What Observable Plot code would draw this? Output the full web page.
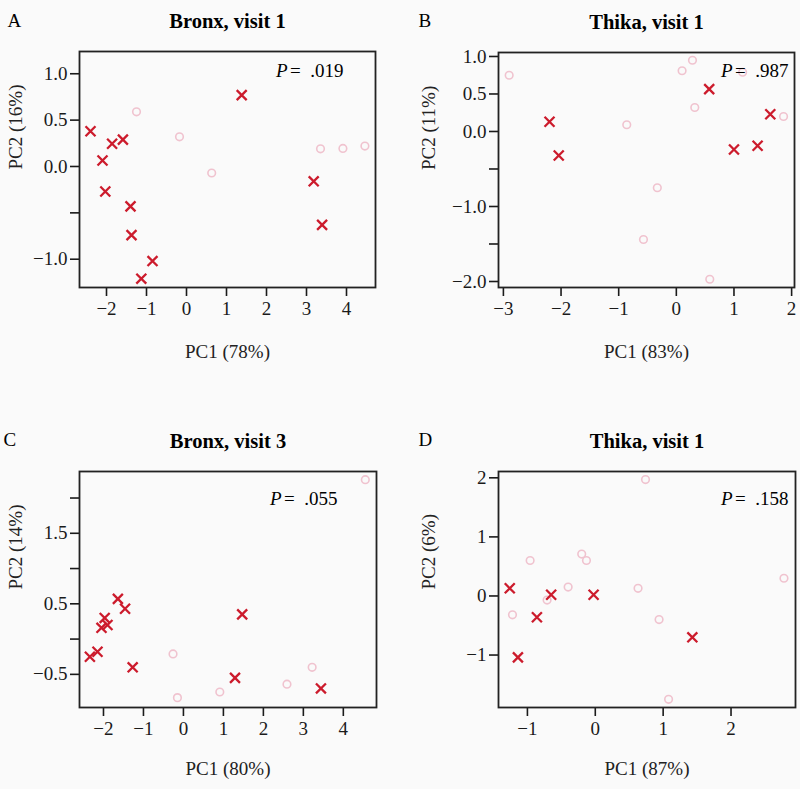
<!DOCTYPE html>
<html>
<head>
<meta charset="utf-8">
<script src="https://cdn.jsdelivr.net/npm/d3@7"></script>
<script src="https://cdn.jsdelivr.net/npm/@observablehq/plot@0.6"></script>
<style>
  html, body { margin: 0; padding: 0; background: #fafafa; }
  #root { position: relative; width: 800px; height: 789px; background: #fafafa; overflow: hidden; }
  #root svg, #root svg text { font-family: "Liberation Serif", "Times New Roman", serif !important; }
</style>
</head>
<body>
<div id="root"></div>
<script>
// ---- Panel A: Bronx, visit 1 ----
const aCrossX = [-2.40, -1.86, -1.59, -2.10, -2.03, -1.40, -1.375, -0.85, -1.13, 1.38, 3.18, 3.39];
const aCrossY = [0.38, 0.245, 0.29, 0.065, -0.27, -0.43, -0.74, -1.02, -1.21, 0.77, -0.16, -0.63];
const aCircX = [-1.25, -0.175, 0.63, 3.35, 3.91, 4.46];
const aCircY = [0.59, 0.32, -0.07, 0.19, 0.195, 0.22];
const aXTicks = [-2, -1, 0, 1, 2, 3, 4];
const aYTicks = [1.0, 0.5, 0.0, -0.5, -1.0];
const aYLabeled = [1.0, 0.5, 0.0, -1.0];

// ---- Panel B: Thika, visit 1 ----
const bCrossX = [-2.20, -2.04, 0.57, 1.00, 1.41, 1.63];
const bCrossY = [0.13, -0.32, 0.565, -0.24, -0.19, 0.23];
const bCircX = [-2.90, 0.28, 0.10, 1.15, 0.32, -0.86, 1.86, -0.33, -0.57, 0.58];
const bCircY = [0.75, 0.95, 0.81, 0.79, 0.32, 0.09, 0.20, -0.75, -1.44, -1.97];
const bXTicks = [-3, -2, -1, 0, 1, 2];
const bYTicks = [1.0, 0.5, 0.0, -0.5, -1.0, -1.5, -2.0];
const bYLabeled = [1.0, 0.5, 0.0, -1.0, -2.0];

// ---- Panel C: Bronx, visit 3 ----
const cCrossX = [-2.34, -2.15, -2.05, -1.97, -1.90, -1.64, -1.46, -1.27, 1.47, 1.29, 3.44];
const cCrossY = [-0.25, -0.18, 0.16, 0.30, 0.20, 0.57, 0.43, -0.40, 0.35, -0.55, -0.70];
const cCircX = [4.55, -0.26, -0.15, 0.91, 2.59, 3.22];
const cCircY = [2.26, -0.21, -0.83, -0.75, -0.64, -0.40];
const cXTicks = [-2, -1, 0, 1, 2, 3, 4];
const cYTicks = [2.0, 1.5, 1.0, 0.5, 0.0, -0.5];
const cYLabeled = [1.5, 0.5, -0.5];

// ---- Panel D: Thika, visit 1 ----
const dCrossX = [-1.26, -0.65, -0.025, -0.86, -1.14, 1.43];
const dCrossY = [0.13, 0.02, 0.02, -0.36, -1.04, -0.70];
const dCircX = [0.74, -0.96, -0.20, -0.13, -0.40, 0.63, 2.78, -1.22, -0.71, 0.94, 1.08];
const dCircY = [1.97, 0.60, 0.71, 0.60, 0.15, 0.13, 0.30, -0.32, -0.07, -0.40, -1.75];
const dXTicks = [-1, 0, 1, 2];
const dYTicks = [2, 1, 0, -1];
const dYLabeled = [2, 1, 0, -1];

const titles = ["Bronx, visit 1", "Thika, visit 1", "Bronx, visit 3", "Thika, visit 1"];
const letters = ["A", "B", "C", "D"];
const xLabels = ["PC1 (78%)", "PC1 (83%)", "PC1 (80%)", "PC1 (87%)"];
const yLabels = ["PC2 (16%)", "PC2 (11%)", "PC2 (14%)", "PC2 (6%)"];
const pValues = [".019", ".987", ".055", ".158"];

const CROSS = "#cc1b2c";
const CIRCLE = "#f0c3cf";
const FONT = "Liberation Serif, Times New Roman, serif";

const minus = s => s.replace("-", "\u2212");
const fmt1 = d => minus(d.toFixed(1));
const fmt0 = d => minus(d.toFixed(0));

const zip = (xs, ys) => xs.map((x, i) => ({x, y: ys[i]}));

function panel(o) {
  const crosses = zip(o.crossX, o.crossY);
  const circles = zip(o.circX, o.circY);
  return Plot.plot({
    width: 400,
    height: o.height,
    marginLeft: o.ml, marginRight: o.mr, marginTop: o.mt, marginBottom: o.mb,
    style: {fontFamily: FONT, fontSize: "19px", background: "transparent", color: "#1a1a1a"},
    x: {domain: o.xDomain},
    y: {domain: o.yDomain},
    marks: [
      Plot.axisX({ticks: o.xTicks, tickFormat: fmt0, tickSize: 9, tickPadding: 5, label: null, fontSize: 19, strokeWidth: 1.6, fontFamily: FONT}),
      Plot.axisY({ticks: o.yTicks, tickFormat: d => o.yLabeled.includes(d) ? o.yFmt(d) : "", tickSize: 9, tickPadding: 3, label: null, fontSize: 19, strokeWidth: 1.6, fontFamily: FONT}),
      Plot.frame({stroke: "#222", strokeWidth: 1.8}),
      Plot.dot(circles, {x: "x", y: "y", r: 3.8, stroke: CIRCLE, strokeWidth: 1.6, fill: "none"}),
      Plot.dot(crosses, {x: "x", y: "y", symbol: "times", r: 4.6, stroke: CROSS, strokeWidth: 2.3}),
      Plot.text([o.title], {frameAnchor: "top", dy: -38, fontWeight: "bold", fontSize: 20.5, fill: "#000", fontFamily: FONT}),
      Plot.text([o.letter], {frameAnchor: "top-left", dx: o.letterX - o.ml, dy: o.letterY - o.mt, textAnchor: "start", fontSize: 19, fill: "#000", fontFamily: FONT}),
      Plot.text([o.xLabel], {frameAnchor: "bottom", dy: o.xLabelDy, fontSize: 19, fill: "#222", fontFamily: FONT}),
      Plot.text([o.yLabel], {frameAnchor: "left", dx: o.yLabelDx, rotate: -90, fontSize: 19, fill: "#222", fontFamily: FONT}),
      Plot.text(["=\u2002" + o.p], {frameAnchor: "top-right", dx: o.pDx, dy: o.pDy, textAnchor: "end", fontSize: 19, fill: "#000", fontFamily: FONT}),
      Plot.text(["P"], {frameAnchor: "top-right", dx: o.pDx - 56, dy: o.pDy, textAnchor: "end", fontSize: 19, fontStyle: "italic", fill: "#000", fontFamily: FONT})
    ]
  });
}

const configs = [
  {left: 0, top: 0, height: 395, ml: 79, mr: 25, mt: 51, mb: 108,
   xDomain: [-2.675, 4.725], yDomain: [-1.305, 1.24],
   crossX: aCrossX, crossY: aCrossY, circX: aCircX, circY: aCircY,
   xTicks: aXTicks, yTicks: aYTicks, yLabeled: aYLabeled, yFmt: fmt1,
   title: titles[0], letter: letters[0], letterX: 7, letterY: 13,
   xLabel: xLabels[0], xLabelDy: 70, yLabel: yLabels[0], yLabelDx: -64,
   p: pValues[0], pDx: -32, pDy: 12},
  {left: 400, top: 0, height: 395, ml: 98, mr: 6, mt: 52, mb: 108,
   xDomain: [-3.085, 2.05], yDomain: [-2.08, 1.053],
   crossX: bCrossX, crossY: bCrossY, circX: bCircX, circY: bCircY,
   xTicks: bXTicks, yTicks: bYTicks, yLabeled: bYLabeled, yFmt: fmt1,
   title: titles[1], letter: letters[1], letterX: 18, letterY: 13,
   xLabel: xLabels[1], xLabelDy: 70, yLabel: yLabels[1], yLabelDx: -70,
   p: pValues[1], pDx: -6, pDy: 11},
  {left: 0, top: 395, height: 394, ml: 79, mr: 24, mt: 76, mb: 82,
   xDomain: [-2.6, 4.83], yDomain: [-0.97, 2.376],
   crossX: cCrossX, crossY: cCrossY, circX: cCircX, circY: cCircY,
   xTicks: cXTicks, yTicks: cYTicks, yLabeled: cYLabeled, yFmt: fmt1,
   title: titles[2], letter: letters[2], letterX: 3, letterY: 37,
   xLabel: xLabels[2], xLabelDy: 67, yLabel: yLabels[2], yLabelDx: -64,
   p: pValues[2], pDx: -39, pDy: 20},
  {left: 400, top: 395, height: 394, ml: 98, mr: 5, mt: 76, mb: 82,
   xDomain: [-1.426, 2.95], yDomain: [-1.888, 2.107],
   crossX: dCrossX, crossY: dCrossY, circX: dCircX, circY: dCircY,
   xTicks: dXTicks, yTicks: dYTicks, yLabeled: dYLabeled, yFmt: fmt0,
   title: titles[3], letter: letters[3], letterX: 18, letterY: 37,
   xLabel: xLabels[3], xLabelDy: 67, yLabel: yLabels[3], yLabelDx: -70,
   p: pValues[3], pDx: -7, pDy: 20}
];

const root = document.getElementById("root");
for (const c of configs) {
  const el = panel(c);
  el.style.position = "absolute";
  el.style.left = c.left + "px";
  el.style.top = c.top + "px";
  root.appendChild(el);
}
</script>
</body>
</html>
